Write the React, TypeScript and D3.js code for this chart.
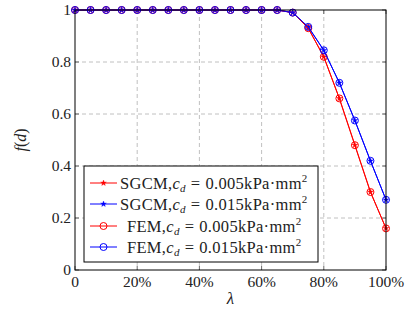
import React from "react";
import * as d3 from "d3";

const lambdas = [0, 5, 10, 15, 20, 25, 30, 35, 40, 45, 50, 55, 60, 65, 70, 75, 80, 85, 90, 95, 100];
const sgcm005 = [1, 1, 1, 1, 1, 1, 1, 1, 1, 1, 1, 1, 1, 1, 0.99, 0.93, 0.82, 0.66, 0.48, 0.3, 0.16];
const sgcm015 = [1, 1, 1, 1, 1, 1, 1, 1, 1, 1, 1, 1, 1, 1, 0.99, 0.935, 0.845, 0.72, 0.575, 0.42, 0.27];
const fem005 = [1, 1, 1, 1, 1, 1, 1, 1, 1, 1, 1, 1, 1, 1, 0.99, 0.93, 0.82, 0.66, 0.48, 0.3, 0.16];
const fem015 = [1, 1, 1, 1, 1, 1, 1, 1, 1, 1, 1, 1, 1, 1, 0.99, 0.935, 0.845, 0.72, 0.575, 0.42, 0.27];
const xTicks = [0, 20, 40, 60, 80, 100];
const xTickLabels = ["0", "20%", "40%", "60%", "80%", "100%"];
const yTicks = [0, 0.2, 0.4, 0.6, 0.8, 1];
const yTickLabels = ["0", "0.2", "0.4", "0.6", "0.8", "1"];

const series = [
  { name: "SGCM", cd: "0.005", values: sgcm005, color: "#ff0000", marker: "star" },
  { name: "SGCM", cd: "0.015", values: sgcm015, color: "#0000ff", marker: "star" },
  { name: "FEM", cd: "0.005", values: fem005, color: "#ff0000", marker: "circle" },
  { name: "FEM", cd: "0.015", values: fem015, color: "#0000ff", marker: "circle" },
];

const FONT = "Liberation Serif, DejaVu Serif, serif";

function Marker({ type, x, y, color }: { type: string; x: number; y: number; color: string }) {
  if (type === "circle") {
    return <circle cx={x} cy={y} r={3.5} fill="none" stroke={color} strokeWidth={1} />;
  }
  const star = d3.symbol(d3.symbolStar, 10)();
  return <path d={star || ""} transform={`translate(${x},${y})`} fill={color} stroke={color} strokeWidth={0.4} />;
}

export default function App() {
  const W = 405, H = 320;
  const left = 75, right = 386, top = 10, bottom = 270;
  const x = d3.scaleLinear().domain([0, 100]).range([left, right]);
  const y = d3.scaleLinear().domain([0, 1]).range([bottom, top]);
  const line = d3.line<number>().x((_, i) => x(lambdas[i])).y((v) => y(v));

  const legX = 84, legY = 166, legW = 234, legH = 96;
  const rowY = [183, 204, 226, 247];
  const fs = 15.5;
  const lfs = 16.5;

  return (
    <svg width={W} height={H} style={{ position: "absolute", left: 0, top: 0 }} fontFamily={FONT}>
      <rect width={W} height={H} fill="#fff" />
      {xTicks.slice(1, -1).map((t) => (
        <line key={"gx" + t} x1={x(t)} x2={x(t)} y1={top} y2={bottom} stroke="#b0b0b0" strokeDasharray="4,3" strokeWidth={0.8} />
      ))}
      {yTicks.slice(1, -1).map((t) => (
        <line key={"gy" + t} x1={left} x2={right} y1={y(t)} y2={y(t)} stroke="#b0b0b0" strokeDasharray="4,3" strokeWidth={0.8} />
      ))}
      {xTicks.map((t) => (
        <g key={"tx" + t}>
          <line x1={x(t)} x2={x(t)} y1={bottom} y2={bottom - 4} stroke="#444" strokeWidth={0.8} />
          <line x1={x(t)} x2={x(t)} y1={top} y2={top + 4} stroke="#444" strokeWidth={0.8} />
        </g>
      ))}
      {yTicks.map((t) => (
        <g key={"ty" + t}>
          <line x1={left} x2={left + 4} y1={y(t)} y2={y(t)} stroke="#444" strokeWidth={0.8} />
          <line x1={right} x2={right - 4} y1={y(t)} y2={y(t)} stroke="#444" strokeWidth={0.8} />
        </g>
      ))}
      {series.map((s, si) => (
        <g key={"s" + si}>
          <path d={line(s.values) || ""} fill="none" stroke={s.color} strokeWidth={1} />
          {s.values.map((v, i) => (
            <Marker key={i} type={s.marker} x={x(lambdas[i])} y={y(v)} color={s.color} />
          ))}
        </g>
      ))}
      <rect x={left} y={top} width={right - left} height={bottom - top} fill="none" stroke="#000" strokeWidth={1} />
      {xTicks.map((t, i) => (
        <text key={"lx" + t} x={x(t)} y={bottom + 17} textAnchor="middle" fontSize={fs} fill="#222">
          {xTickLabels[i]}
        </text>
      ))}
      {yTicks.map((t, i) => (
        <text key={"ly" + t} x={left - 4} y={y(t) + 5} textAnchor="end" fontSize={fs} fill="#222">
          {yTickLabels[i]}
        </text>
      ))}
      <text x={(left + right) / 2} y={304} textAnchor="middle" fontSize={17} fontStyle="italic" fill="#222">λ</text>
      <text transform={`translate(26,${(top + bottom) / 2}) rotate(-90)`} textAnchor="middle" fontSize={16} fill="#222">
        <tspan fontStyle="italic">f</tspan>(<tspan fontStyle="italic">d</tspan>)
      </text>
      <rect x={legX} y={legY} width={legW} height={legH} fill="#fff" stroke="#000" strokeWidth={1} />
      {series.map((s, i) => (
        <g key={"lg" + i}>
          <line x1={90} x2={117} y1={rowY[i]} y2={rowY[i]} stroke={s.color} strokeWidth={1} />
          <Marker type={s.marker} x={103.5} y={rowY[i]} color={s.color} />
          <text x={s.name === "FEM" ? 127 : 120} y={rowY[i] + 5.5} fontSize={lfs} fill="#222" letterSpacing={0.3}>
            {s.name},<tspan fontStyle="italic">c</tspan>
            <tspan fontStyle="italic" fontSize={11} dy={3}>d</tspan>
            <tspan dy={-3} dx={5}>=</tspan>
            <tspan dx={5}>{s.cd}kPa·mm</tspan>
            <tspan fontSize={11} dy={-6.5}>2</tspan>
          </text>
        </g>
      ))}
    </svg>
  );
}
